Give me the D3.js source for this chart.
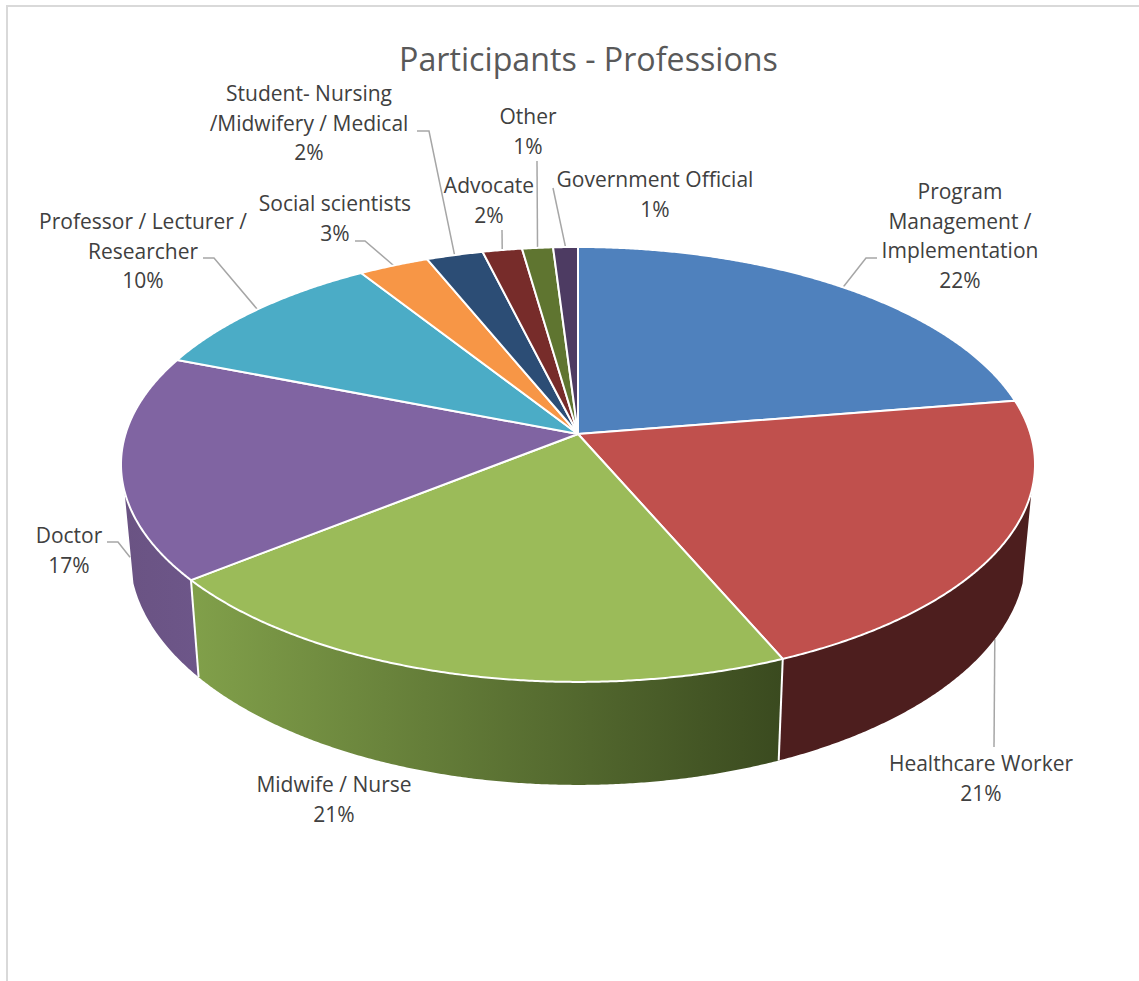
<!DOCTYPE html>
<html>
<head>
<meta charset="utf-8">
<title>Participants - Professions</title>
<script src="https://cdnjs.cloudflare.com/ajax/libs/d3/7.8.5/d3.min.js"></script>
<style>
  body { margin: 0; background: #fff; }
  svg { display: block; }
  text { font-family: "Open Sans", sans-serif; }
</style>
</head>
<body>
<div id="chart"></div>
<script>
var chartTitle = "Participants - Professions";

// "|" is a line break in the label
var categories = [
    "Program|Management /|Implementation",
    "Healthcare Worker",
    "Midwife / Nurse",
    "Doctor",
    "Professor / Lecturer /|Researcher",
    "Social scientists",
    "Student- Nursing|/Midwifery / Medical",
    "Advocate",
    "Other",
    "Government Official"
];
var values = [22.45, 21.1, 20.7, 16.7, 10.05, 2.85, 2.3, 1.6, 1.25, 1.0];
var colors = ["#4f81bd", "#c0504d", "#9bbb59", "#8064a2", "#4bacc6", "#f79646", "#2c4d75", "#772c2a", "#5f7530", "#4d3b62"];
var wallFrom = ["#3b5f8c", "#4d1e1e", "#81a04a", "#6a5383", "#38809a", "#b06a30", "#20385a", "#56201e", "#445422", "#372a47"];
var wallTo = ["#3b5f8c", "#4d1e1e", "#3a4a1f", "#6d5689", "#38809a", "#b06a30", "#20385a", "#56201e", "#445422", "#372a47"];

// label placement: centre x, baseline of the first line
var labelX = [960, 981, 334, 69, 143, 335, 309, 489, 528, 655];
var labelY = [199, 771, 792, 543, 229, 211, 101, 193, 124, 187];
// leader line start points, the last point comes from the slice itself
var leaderStart = [
    [[877, 258], [866, 258]],
    [[994, 747]],
    null,
    [[107, 542], [118, 542]],
    [[203, 258], [214, 258]],
    [[355, 241], [365, 241]],
    [[417, 131], [429, 131]],
    [[502, 230]],
    [[537, 161]],
    [[553, 188]]
];
var leaderOnWall = [false, true, false, true, false, false, false, false, false, false];

var width = 1139, height = 981;

// perspective of the pie top: centre of the slices, half sizes, tilt
var cx = 578, cy = 434, A = 452.5, B = 213.2, tilt = 0.14;
// where a point of the top rim lands on the bottom rim
var depthX = d3.scaleLinear().domain([121, 1034]).range([130, 1025]);
var depthY = d3.scaleLinear().domain([493, 682]).range([585, 785]);
var wallStart = 105 * Math.PI / 180, wallEnd = 255 * Math.PI / 180;

function topPoint(a) {
    var u = Math.sin(a), v = -Math.cos(a), w = 1 - tilt * v;
    return [cx + A * u / w, cy + B * v / w];
}

function bottomPoint(a) {
    var p = topPoint(a);
    return [depthX(p[0]), depthY(p[1])];
}

function arcAngles(a0, a1) {
    var n = Math.max(2, Math.ceil((a1 - a0) * 180));
    return d3.range(n + 1).map(i => a0 + (a1 - a0) * i / n);
}

var line = d3.line();

var pie = d3.pie().sort(null).value(d => d);
var slices = pie(values);
var total = d3.sum(values);

var svg = d3.select("#chart").append("svg")
    .attr("width", width)
    .attr("height", height);

// chart frame, only top and left edges are inside the picture
svg.append("rect")
    .attr("x", 7)
    .attr("y", 6)
    .attr("width", width + 20)
    .attr("height", height + 20)
    .attr("fill", "#fff")
    .attr("stroke", "#d9d9d9")
    .attr("stroke-width", 2);

svg.append("text")
    .attr("x", 588.5)
    .attr("y", 71)
    .attr("text-anchor", "middle")
    .attr("font-size", 32.2)
    .attr("fill", "#595959")
    .text(chartTitle);

var defs = svg.append("defs");
slices.forEach(function(d, i) {
    var grad = defs.append("linearGradient").attr("id", "wall" + i);
    grad.append("stop").attr("offset", "0%").attr("stop-color", wallFrom[i]);
    grad.append("stop").attr("offset", "100%").attr("stop-color", wallTo[i]);
});

// leader lines go under the walls
slices.forEach(function(d, i) {
    if (!leaderStart[i]) return;
    var mid = (d.startAngle + d.endAngle) / 2;
    var end = leaderOnWall[i] ? bottomPoint(mid) : topPoint(mid);
    svg.append("path")
        .attr("d", line(leaderStart[i].concat([end])))
        .attr("fill", "none")
        .attr("stroke", "#a6a6a6")
        .attr("stroke-width", 1.5);
});

// walls of the slices that face the viewer
slices.forEach(function(d, i) {
    var a0 = Math.max(d.startAngle, wallStart), a1 = Math.min(d.endAngle, wallEnd);
    if (a1 <= a0) return;
    var angles = arcAngles(a0, a1);
    var pts = angles.map(topPoint).concat(angles.slice().reverse().map(bottomPoint));
    svg.append("path")
        .attr("d", line(pts) + "Z")
        .attr("fill", "url(#wall" + i + ")");
});

// white edge between neighbouring walls
slices.forEach(function(d) {
    if (d.startAngle <= wallStart || d.startAngle >= wallEnd) return;
    svg.append("path")
        .attr("d", line([topPoint(d.startAngle), bottomPoint(d.startAngle)]))
        .attr("stroke", "#fff")
        .attr("stroke-width", 2);
});

// top of the pie
svg.selectAll(".slice")
    .data(slices)
    .enter().append("path")
    .attr("class", "slice")
    .attr("d", d => line([[cx, cy]].concat(arcAngles(d.startAngle, d.endAngle).map(topPoint))) + "Z")
    .attr("fill", (d, i) => colors[i])
    .attr("stroke", "#fff")
    .attr("stroke-width", 2)
    .attr("stroke-linejoin", "round");

// labels
var fmt = d3.format(".0f");
slices.forEach(function(d, i) {
    var lines = categories[i].split("|").concat(fmt(d.value / total * 100) + "%");
    lines.forEach(function(t, k) {
        svg.append("text")
            .attr("x", labelX[i])
            .attr("y", labelY[i] + k * 29.5)
            .attr("text-anchor", "middle")
            .attr("font-size", 21)
            .attr("fill", "#404040")
            .text(t);
    });
});
</script>
</body>
</html>
